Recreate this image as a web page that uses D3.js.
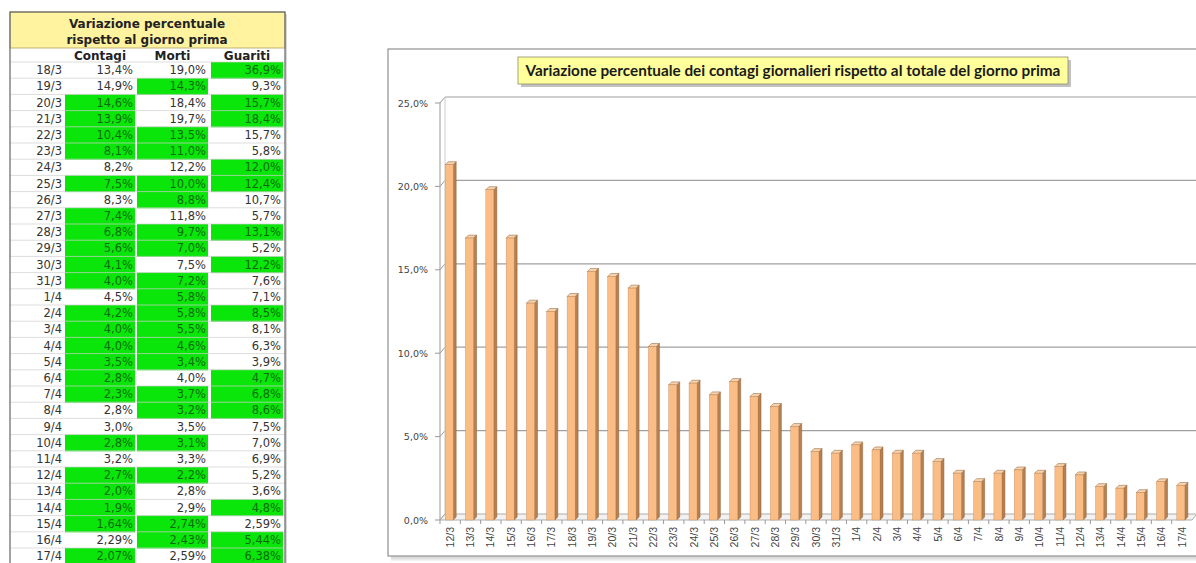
<html>
<head>
<script src="https://d3js.org/d3.v7.min.js"></script>
<style>
  body { margin: 0; background: #ffffff; }
  svg { display: block; }
</style>
</head>
<body>
<svg id="svgContainer"></svg>
<script>
// ---- dati del grafico (contagi giornalieri %) ----
var chartDates = ["12/3","13/3","14/3","15/3","16/3","17/3","18/3","19/3","20/3","21/3","22/3","23/3","24/3","25/3","26/3","27/3","28/3","29/3","30/3","31/3",
                  "1/4","2/4","3/4","4/4","5/4","6/4","7/4","8/4","9/4","10/4","11/4","12/4","13/4","14/4","15/4","16/4","17/4"];
var chartValues = [21.3,16.9,19.8,16.9,13.0,12.5,13.4,14.9,14.6,13.9,10.4,8.1,8.2,7.5,8.3,7.4,6.8,5.6,4.1,4.0,
                   4.5,4.2,4.0,4.0,3.5,2.8,2.3,2.8,3.0,2.8,3.2,2.7,2.0,1.9,1.64,2.29,2.07];
var yTicks = [0, 5, 10, 15, 20, 25];

// ---- dati della tabella ----
var tableDates = ["18/3","19/3","20/3","21/3","22/3","23/3","24/3","25/3","26/3","27/3","28/3","29/3","30/3","31/3",
                  "1/4","2/4","3/4","4/4","5/4","6/4","7/4","8/4","9/4","10/4","11/4","12/4","13/4","14/4","15/4","16/4","17/4"];
var tableContagi = [13.4,14.9,14.6,13.9,10.4,8.1,8.2,7.5,8.3,7.4,6.8,5.6,4.1,4.0,4.5,4.2,4.0,4.0,3.5,2.8,2.3,2.8,3.0,2.8,3.2,2.7,2.0,1.9,1.64,2.29,2.07];
var tableMorti   = [19.0,14.3,18.4,19.7,13.5,11.0,12.2,10.0,8.8,11.8,9.7,7.0,7.5,7.2,5.8,5.8,5.5,4.6,3.4,4.0,3.7,3.2,3.5,3.1,3.3,2.2,2.8,2.9,2.74,2.43,2.59];
var tableGuariti = [36.9,9.3,15.7,18.4,15.7,5.8,12.0,12.4,10.7,5.7,13.1,5.2,12.2,7.6,7.1,8.5,8.1,6.3,3.9,4.7,6.8,8.6,7.5,7.0,6.9,5.2,3.6,4.8,2.59,5.44,6.38];
// celle verdi (1 = verde)
var greenContagi = [0,0,1,1,1,1,0,1,0,1,1,1,1,1,0,1,1,1,1,1,1,0,0,1,0,1,1,1,1,0,1];
var greenMorti   = [0,1,0,0,1,1,0,1,1,0,1,1,0,1,1,1,1,1,1,0,1,1,0,1,0,1,0,0,1,1,0];
var greenGuariti = [1,0,1,1,0,0,1,1,0,0,1,0,1,0,0,1,0,0,0,1,1,1,0,0,0,0,0,1,0,1,1];
var tableHeaders = ["Contagi", "Morti", "Guariti"];

var svg = d3.select("#svgContainer").attr("width", 1196).attr("height", 563);

/* formato italiano con virgola */
function fmt(v, i) {
    var dec = i >= 28 ? 2 : 1;
    return v.toFixed(dec).replace(".", ",") + "%";
}

// ================== TABELLA ==================
function drawTable() {
    var t = svg.append("g");
    var left = 10, right = 285, top = 12;
    var rowTop = 62, rowH = 16.2;
    var cols = [
        {x0: 65,  x1: 135, vals: tableContagi, green: greenContagi},
        {x0: 137, x1: 208, vals: tableMorti,   green: greenMorti},
        {x0: 211, x1: 283, vals: tableGuariti, green: greenGuariti}
    ];
    var bottom = rowTop + rowH * tableDates.length;

    /* ombra leggera */
    t.append("rect").attr("x", left + 2).attr("y", top + 2).attr("width", right - left).attr("height", bottom - top)
        .attr("fill", "#d8d8d8");
    t.append("rect").attr("x", left).attr("y", top).attr("width", right - left).attr("height", bottom - top)
        .attr("fill", "#fff");

    /* titolo giallo */
    t.append("rect").attr("x", left).attr("y", top).attr("width", right - left).attr("height", 36)
        .attr("fill", "#fff3a0").attr("stroke", "#b0a060").attr("stroke-width", 0.8);
    t.append("text").attr("x", 147).attr("y", 28).attr("text-anchor", "middle")
        .style("font", "bold 12px 'DejaVu Sans'").attr("fill", "#222").text("Variazione percentuale");
    t.append("text").attr("x", 147).attr("y", 44).attr("text-anchor", "middle")
        .style("font", "bold 12px 'DejaVu Sans'").attr("fill", "#222").text("rispetto al giorno prima");

    /* intestazioni */
    cols.forEach(function(c, j) {
        t.append("text").attr("x", (c.x0 + c.x1) / 2).attr("y", 59.5).attr("text-anchor", "middle")
            .style("font", "bold 12px 'DejaVu Sans'").attr("fill", "#222").text(tableHeaders[j]);
    });

    /* righe */
    var rows = t.selectAll("g.row").data(tableDates).enter().append("g").attr("class", "row")
        .attr("transform", (d, i) => "translate(0," + (rowTop + i * rowH) + ")");

    cols.forEach(function(c) {
        rows.filter((d, i) => c.green[i] === 1).append("rect")
            .attr("x", c.x0).attr("y", 0).attr("width", c.x1 - c.x0).attr("height", rowH + 0.5)
            .attr("fill", "#0ae60a");
    });

    rows.append("line").attr("x1", left).attr("x2", right).attr("y1", 0).attr("y2", 0)
        .attr("stroke", "#cfcfcf").attr("stroke-width", 0.7);

    rows.append("text").attr("x", 62).attr("y", 12.3).attr("text-anchor", "end")
        .style("font", "11.5px 'DejaVu Sans'").attr("fill", "#333").text(d => d);

    cols.forEach(function(c) {
        rows.append("text").attr("x", c.x1 - 2).attr("y", 12.3).attr("text-anchor", "end")
            .style("font", "11.5px 'DejaVu Sans'")
            .attr("fill", (d, i) => c.green[i] ? "#0b6b0b" : "#333")
            .text((d, i) => fmt(c.vals[i], i));
    });

    /* bordo esterno */
    t.append("rect").attr("x", left).attr("y", top).attr("width", right - left).attr("height", bottom - top)
        .attr("fill", "none").attr("stroke", "#666").attr("stroke-width", 1.2);
}

// ================== GRAFICO ==================
function drawChart() {
    var c = svg.append("g");
    var boxX = 388, boxY = 49, boxB = 556;

    /* ombra del riquadro */
    for (var k = 1; k <= 5; k++) {
        c.append("line").attr("x1", boxX + 3).attr("x2", 1196).attr("y1", boxB + k).attr("y2", boxB + k)
            .attr("stroke", "#888").attr("stroke-opacity", 0.5 - k * 0.09);
    }
    c.append("rect").attr("x", boxX).attr("y", boxY).attr("width", 900).attr("height", boxB - boxY)
        .attr("fill", "#fff").attr("stroke", "#7a7a7a").attr("stroke-width", 1);

    var x = d3.scaleBand().domain(chartDates).range([440, 1192]).paddingInner(0).paddingOuter(0);
    var y = d3.scaleLinear().domain([0, 25]).range([520, 103]);
    var dx = 5, dy = -6; // profondita 3D

    /* griglia sulla parete di fondo */
    c.selectAll("line.grid").data(yTicks.slice(1)).enter().append("line").attr("class", "grid")
        .attr("x1", 440 + dx).attr("x2", 1196).attr("y1", d => y(d) + dy).attr("y2", d => y(d) + dy)
        .attr("stroke", "#a0a0a0").attr("stroke-width", 1.2);
    c.selectAll("path.slant").data(yTicks).enter().append("path").attr("class", "slant")
        .attr("d", d => "M435," + y(d) + "L440," + y(d) + "L" + (440 + dx) + "," + (y(d) + dy))
        .attr("fill", "none").attr("stroke", "#999");
    /* parete sinistra */
    c.append("line").attr("x1", 440).attr("x2", 440).attr("y1", y(25)).attr("y2", y(0)).attr("stroke", "#999");
    c.append("line").attr("x1", 440 + dx).attr("x2", 440 + dx).attr("y1", y(25) + dy).attr("y2", y(0) + dy)
        .attr("stroke", "#ccc");

    /* pavimento */
    c.append("path")
        .attr("d", "M440," + y(0) + "L1192," + y(0) + "L" + (1192 + dx) + "," + (y(0) + dy) + "L" + (440 + dx) + "," + (y(0) + dy) + "Z")
        .attr("fill", "#f2f2f2").attr("stroke", "#999").attr("stroke-width", 0.8);

    /* asse y */
    var yAxis = d3.axisLeft(y).tickValues(yTicks).tickSize(0).tickPadding(12)
        .tickFormat(d => d.toFixed(1).replace(".", ",") + "%");
    var ya = c.append("g").attr("transform", "translate(440,0)").call(yAxis);
    ya.select(".domain").remove();
    ya.selectAll("text").style("font", "9.5px 'DejaVu Sans'").attr("fill", "#444");

    /* asse x */
    var xAxis = d3.axisBottom(x).tickSize(0).tickPadding(0);
    var xa = c.append("g").attr("transform", "translate(0," + y(0) + ")").call(xAxis);
    xa.select(".domain").remove();
    xa.selectAll("text")
        .attr("transform", "translate(0,7) rotate(-90)")
        .attr("text-anchor", "end").attr("dy", "0.35em").attr("x", 0).attr("y", 0)
        .style("font", "10.5px 'Liberation Sans'").attr("fill", "#444");
    c.selectAll("line.xtick").data(chartDates).enter().append("line").attr("class", "xtick")
        .attr("x1", d => x(d)).attr("x2", d => x(d)).attr("y1", y(0)).attr("y2", y(0) + 4)
        .attr("stroke", "#999");

    /* barre 3D */
    var bw = 8, depth = 3;
    var bars = c.selectAll("g.bar").data(chartValues).enter().append("g").attr("class", "bar")
        .attr("transform", (d, i) => "translate(" + (x(chartDates[i]) + (x.bandwidth() - bw) / 2 - 1) + ",0)");
    bars.append("path")
        .attr("d", d => "M" + bw + "," + y(d) + "L" + (bw + depth) + "," + (y(d) - depth) + "L" + (bw + depth) + "," + (y(0) - depth) + "L" + bw + "," + y(0) + "Z")
        .attr("fill", "#b8804f").attr("stroke", "#8a5a30").attr("stroke-width", 0.5);
    bars.append("path")
        .attr("d", d => "M0," + y(d) + "L" + depth + "," + (y(d) - depth) + "L" + (bw + depth) + "," + (y(d) - depth) + "L" + bw + "," + y(d) + "Z")
        .attr("fill", "#f7d3ad").attr("stroke", "#8a5a30").attr("stroke-width", 0.5);
    bars.append("rect").attr("x", 0).attr("y", d => y(d)).attr("width", bw).attr("height", d => y(0) - y(d))
        .attr("fill", "#fbbd86").attr("stroke", "#c08a5c").attr("stroke-width", 0.4);

    /* titolo */
    var tx = 518, ty = 57, tw = 550, th = 27;
    c.append("rect").attr("x", tx + 3).attr("y", ty + 3).attr("width", tw).attr("height", th).attr("fill", "#9a9a9a").attr("opacity", 0.6);
    c.append("rect").attr("x", tx).attr("y", ty).attr("width", tw).attr("height", th)
        .attr("fill", "#ffff9c").attr("stroke", "#8c8c6a").attr("stroke-width", 0.8);
    c.append("text").attr("x", tx + tw / 2).attr("y", ty + 19).attr("text-anchor", "middle")
        .style("font", "bold 15.3px Lato").attr("fill", "#1a1a1a")
        .text("Variazione percentuale dei contagi giornalieri rispetto al totale del giorno prima");
}

drawTable();
drawChart();
</script>
</body>
</html>
